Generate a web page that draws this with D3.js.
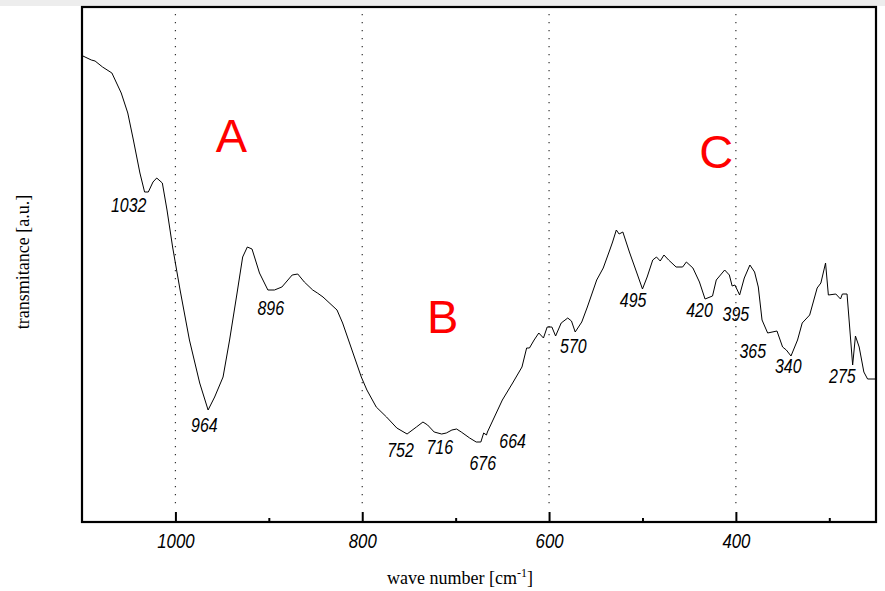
<!DOCTYPE html>
<html>
<head>
<meta charset="utf-8">
<script src="https://cdn.jsdelivr.net/npm/d3@7"></script>
<style>
  body { margin: 0; background: #fff; }
  svg { display: block; }
</style>
</head>
<body>
<svg id="chart" width="885" height="591"></svg>
<script>
// wave numbers [cm-1]
var wavenumber = [
  1100,1099,1090,1086,1078,1068,1058,1051,1045,1038,
  1033,1029,1024,1020,1014,1009,1003,995,985,974,
  965,958,949,942,934,928,923,918,910,901,
  894,886,875,869,862,853,848,842,827,821,
  811,801,795,785,774,763,752,742,735,730,
  723,715,710,704,699,694,685,678,673,670,
  667,666,660,650,639,629,624,621,616,611,
  606,602,597,593,587,580,576,572,565,559,
  549,542,535,532,528,525,521,514,506,500,
  495,489,485,481,477,472,464,457,453,446,
  439,433,425,421,412,407,404,401,396,391,
  385,380,376,372,366,356,350,346,341,334,
  329,321,313,309,304,301,293,288,286,281,
  275,272,268,263,259,250
];

// transmitance [a.u.]
var transmitance = [
  466,466,462,461,455,449,429,409,382,349,
  330,330,340,344,339,312,275,232,182,139,
  112,125,145,182,229,265,275,273,249,232,
  232,235,247,248,240,232,229,225,212,199,
  172,145,132,115,105,94,88,95,100,97,
  90,88,89,92,93,90,84,80,80,89,
  87,90,102,122,139,155,174,174,182,189,
  184,195,195,186,199,204,201,190,200,215,
  242,254,272,280,292,288,290,270,249,233,
  245,262,265,261,267,262,255,255,260,254,
  240,223,226,242,252,247,236,237,227,244,
  257,250,235,202,189,191,175,172,166,182,
  199,207,234,239,259,227,228,223,228,228,
  157,186,175,150,143,143
];

var majorTicks = [1000, 800, 600, 400];
var minorTicks = [900, 700, 500, 300];

// band labels and where they sit (wave number, level)
var peakText  = ["1032","964","896","752","716","676","664","570","495","420","395","365","340","275"];
var peakWave  = [1050, 969, 898, 759, 717, 671, 639, 574, 510, 439, 400, 382, 344, 286];
var peakLevel = [310, 90, 207, 65, 68, 52, 74, 169, 215, 205, 201, 164, 149, 139];

var regionText  = ["A", "B", "C"];
var regionWave  = [940, 714, 421];
var regionLevel = [370, 189, 354];

var data = wavenumber.map(function(w, i) { return {w: w, t: transmitance[i]}; });

var svg = d3.select("#chart");
var plotLeft = 82, plotRight = 876, plotTop = 7, plotBottom = 522;

var x = d3.scaleLinear().domain([1100, 250]).range([plotLeft, plotRight]);
var y = d3.scaleLinear().domain([0, 515]).range([plotBottom, plotTop]);

svg.append("rect")
  .attr("x", 0).attr("y", 0).attr("width", 885).attr("height", 6)
  .attr("fill", "#ededed");

// dotted grid at the major ticks
svg.append("g").selectAll("line")
  .data(majorTicks)
  .join("line")
  .attr("x1", d => x(d)).attr("x2", d => x(d))
  .attr("y1", plotTop + 7).attr("y2", plotBottom - 12)
  .attr("stroke", "#333")
  .attr("stroke-width", 1.2)
  .attr("stroke-dasharray", "1.2,6.8");

// spectrum
var line = d3.line()
  .x(d => x(d.w))
  .y(d => y(d.t));

svg.append("path")
  .datum(data)
  .attr("d", line)
  .attr("fill", "none")
  .attr("stroke", "#000")
  .attr("stroke-width", 1);

// axes
var xAxis = d3.axisBottom(x)
  .tickValues(majorTicks)
  .tickSizeInner(-10)
  .tickSizeOuter(0)
  .tickFormat(d3.format("d"));

var gx = svg.append("g")
  .attr("transform", "translate(0," + plotBottom + ")")
  .call(xAxis);
gx.select(".domain").remove();
gx.selectAll(".tick line").attr("stroke", "#000").attr("stroke-width", 2);
gx.selectAll(".tick text")
  .attr("y", 26).attr("dy", 0)
  .attr("transform", "scale(0.8,1)")
  .attr("fill", "#000")
  .style("font-family", "'Liberation Sans', Arial, sans-serif")
  .style("font-style", "italic")
  .style("font-size", "21px");

var gm = svg.append("g")
  .attr("transform", "translate(0," + plotBottom + ")")
  .call(d3.axisBottom(x).tickValues(minorTicks).tickSizeInner(-4).tickSizeOuter(0).tickFormat(""));
gm.select(".domain").remove();
gm.selectAll(".tick line").attr("stroke", "#000").attr("stroke-width", 2);

// frame
svg.append("rect")
  .attr("x", plotLeft).attr("y", plotTop)
  .attr("width", plotRight - plotLeft).attr("height", plotBottom - plotTop)
  .attr("fill", "none")
  .attr("stroke", "#000")
  .attr("stroke-width", 2.2);

// band labels
svg.append("g").selectAll("text")
  .data(peakText)
  .join("text")
  .attr("transform", (d, i) => "translate(" + x(peakWave[i]) + "," + y(peakLevel[i]) + ") scale(0.76,1)")
  .attr("text-anchor", "middle")
  .style("font-family", "'Liberation Sans', Arial, sans-serif")
  .style("font-style", "italic")
  .style("font-size", "21px")
  .text(d => d);

svg.append("g").selectAll("text")
  .data(regionText)
  .join("text")
  .attr("x", (d, i) => x(regionWave[i]))
  .attr("y", (d, i) => y(regionLevel[i]))
  .attr("text-anchor", "middle")
  .attr("fill", "#ff0000")
  .style("font-family", "'Liberation Sans', Arial, sans-serif")
  .style("font-size", "47px")
  .text(d => d);

// axis titles
var xt = svg.append("text")
  .attr("x", 460).attr("y", 584)
  .attr("text-anchor", "middle")
  .style("font-family", "'Liberation Serif', 'Times New Roman', serif")
  .style("font-size", "18px");
xt.append("tspan").text("wave number [cm");
xt.append("tspan").attr("dy", -7).style("font-size", "12px").text("-1");
xt.append("tspan").attr("dy", 7).text("]");

svg.append("text")
  .attr("transform", "translate(29,262) rotate(-90)")
  .attr("text-anchor", "middle")
  .style("font-family", "'Liberation Serif', 'Times New Roman', serif")
  .style("font-size", "18px")
  .text("transmitance [a.u.]");
</script>
</body>
</html>
